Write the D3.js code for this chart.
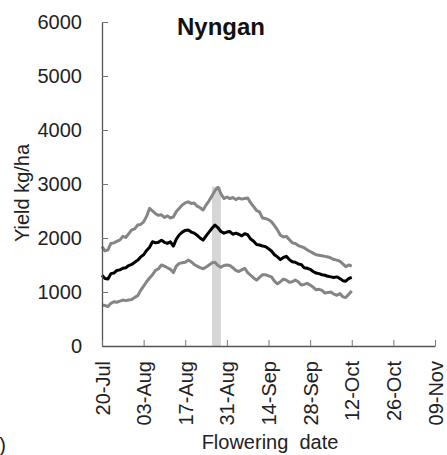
<!DOCTYPE html>
<html>
<head>
<meta charset="utf-8">
<script src="https://cdn.jsdelivr.net/npm/d3@7"></script>
<style>
  body { margin: 0; background: #fff; }
  text { font-family: "Liberation Sans", Arial, sans-serif; }
</style>
</head>
<body>
<div id="chart"></div>
<script>
// daily values from 20-Jul to 12-Oct
const startDate = "20-Jul";
const upper = [1840, 1760, 1780, 1900, 1910, 1940, 1960, 2030, 2010, 2080,
  2150, 2170, 2240, 2250, 2300, 2400, 2550, 2500, 2450, 2420,
  2430, 2380, 2410, 2370, 2390, 2490, 2550, 2610, 2650, 2670,
  2640, 2650, 2590, 2560, 2520, 2610, 2690, 2780, 2880, 2940,
  2820, 2730, 2760, 2730, 2750, 2710, 2740, 2720, 2730, 2740,
  2650, 2580, 2510, 2480, 2370, 2360, 2340, 2300, 2230, 2150,
  2050, 2020, 2030, 1970, 1910, 1900, 1860, 1840, 1820, 1780,
  1750, 1720, 1690, 1680, 1670, 1660, 1650, 1630, 1600, 1590,
  1570, 1520, 1470, 1500, 1480];
const median = [1310, 1250, 1240, 1340, 1350, 1400, 1410, 1440, 1450, 1490,
  1510, 1550, 1590, 1650, 1690, 1770, 1830, 1930, 1910, 1920,
  1960, 1920, 1900, 1930, 1850, 1980, 2060, 2110, 2140, 2150,
  2110, 2090, 2050, 2000, 1960, 2040, 2110, 2180, 2240, 2190,
  2120, 2090, 2110, 2120, 2070, 2090, 2070, 2040, 2080, 2060,
  1980, 1940, 1880, 1870, 1850, 1840, 1800, 1760, 1690, 1650,
  1600, 1640, 1660, 1600, 1560, 1550, 1520, 1510, 1450, 1440,
  1420, 1380, 1350, 1340, 1320, 1310, 1290, 1280, 1270, 1280,
  1250, 1210, 1200, 1250, 1270];
const lower = [760, 750, 730, 790, 820, 810, 830, 850, 840, 850,
  860, 900, 930, 1030, 1110, 1190, 1260, 1320, 1400, 1430,
  1500, 1480, 1450, 1420, 1360, 1480, 1530, 1540, 1550, 1590,
  1560, 1510, 1480, 1450, 1430, 1460, 1500, 1540, 1550, 1490,
  1460, 1490, 1500, 1490, 1450, 1400, 1380, 1410, 1440, 1360,
  1310, 1260, 1220, 1270, 1320, 1320, 1300, 1280, 1200, 1150,
  1190, 1240, 1220, 1180, 1190, 1220, 1190, 1130, 1140, 1160,
  1130, 1090, 1040, 1050, 1030, 980, 990, 1000, 960, 940,
  970, 910, 900, 960, 1020];

const xTickLabels = ["20-Jul", "03-Aug", "17-Aug", "31-Aug", "14-Sep", "28-Sep", "12-Oct", "26-Oct", "09-Nov"];
const yTicks = [0, 1000, 2000, 3000, 4000, 5000, 6000];
const band = ["26-Aug", "29-Aug", 2950];

const width = 447;
const height = 455;
const margin = { top: 22, right: 12, bottom: 109, left: 102 };

const parse = s => d3.timeParse("%d-%b-%Y")(s + "-2019");
const fmt = d3.timeFormat("%d-%b");
const start = parse(startDate);

const x = d3.scaleTime()
  .domain([parse(xTickLabels[0]), parse(xTickLabels[xTickLabels.length - 1])])
  .range([margin.left, width - margin.right]);
const y = d3.scaleLinear()
  .domain([0, 6000])
  .range([height - margin.bottom, margin.top]);

const svg = d3.select("#chart").append("svg")
  .attr("width", width)
  .attr("height", height);

// flowering window band
svg.append("rect")
  .attr("x", x(parse(band[0])))
  .attr("width", x(parse(band[1])) - x(parse(band[0])))
  .attr("y", y(band[2]))
  .attr("height", y(0) - y(band[2]))
  .attr("fill", "#d6d6d6");

const line = d3.line()
  .x((d, i) => x(d3.timeDay.offset(start, i)))
  .y(d => y(d));

const series = [
  { values: upper, color: "#858585" },
  { values: lower, color: "#858585" },
  { values: median, color: "#000" }
];

svg.append("g")
  .selectAll("path")
  .data(series)
  .join("path")
  .attr("d", d => line(d.values))
  .attr("fill", "none")
  .attr("stroke", d => d.color)
  .attr("stroke-width", 3)
  .attr("stroke-linejoin", "round");

// y axis
const yAxis = svg.append("g")
  .attr("transform", `translate(${margin.left},0)`)
  .call(d3.axisLeft(y).tickValues(yTicks).tickSize(-6).tickSizeOuter(0).tickPadding(20).tickFormat(d3.format("d")));

// x axis
const xAxis = svg.append("g")
  .attr("transform", `translate(0,${height - margin.bottom})`)
  .call(d3.axisBottom(x).tickValues(xTickLabels.map(parse)).tickSize(-6).tickSizeOuter(0).tickFormat(fmt));

xAxis.selectAll("text")
  .attr("transform", "rotate(-90)")
  .attr("text-anchor", "end")
  .attr("x", -15)
  .attr("y", 0)
  .attr("dy", "0.35em");

[yAxis, xAxis].forEach(a => {
  a.select(".domain").attr("stroke", "#555").attr("stroke-width", 1.3);
  a.selectAll(".tick line").attr("stroke", "#777");
  a.selectAll("text").attr("font-size", 20).attr("fill", "#222")
    .attr("font-family", "'Liberation Sans', Arial, sans-serif");
});

// title
svg.append("text")
  .attr("x", 221)
  .attr("y", 35)
  .attr("text-anchor", "middle")
  .attr("font-size", 24)
  .attr("font-weight", "bold")
  .attr("fill", "#111")
  .text("Nyngan");

svg.append("text")
  .attr("transform", "translate(29,193) rotate(-90)")
  .attr("text-anchor", "middle")
  .attr("font-size", 20)
  .attr("fill", "#222")
  .text("Yield kg/ha");

svg.append("text")
  .attr("x", 270)
  .attr("y", 449)
  .attr("text-anchor", "middle")
  .attr("font-size", 20)
  .attr("fill", "#222")
  .style("white-space", "pre")
  .text("Flowering  date");

// panel letter, mostly cut off on the left
svg.append("text")
  .attr("x", 6)
  .attr("y", 452)
  .attr("text-anchor", "end")
  .attr("font-size", 20)
  .attr("fill", "#222")
  .text("(b)");
</script>
</body>
</html>
